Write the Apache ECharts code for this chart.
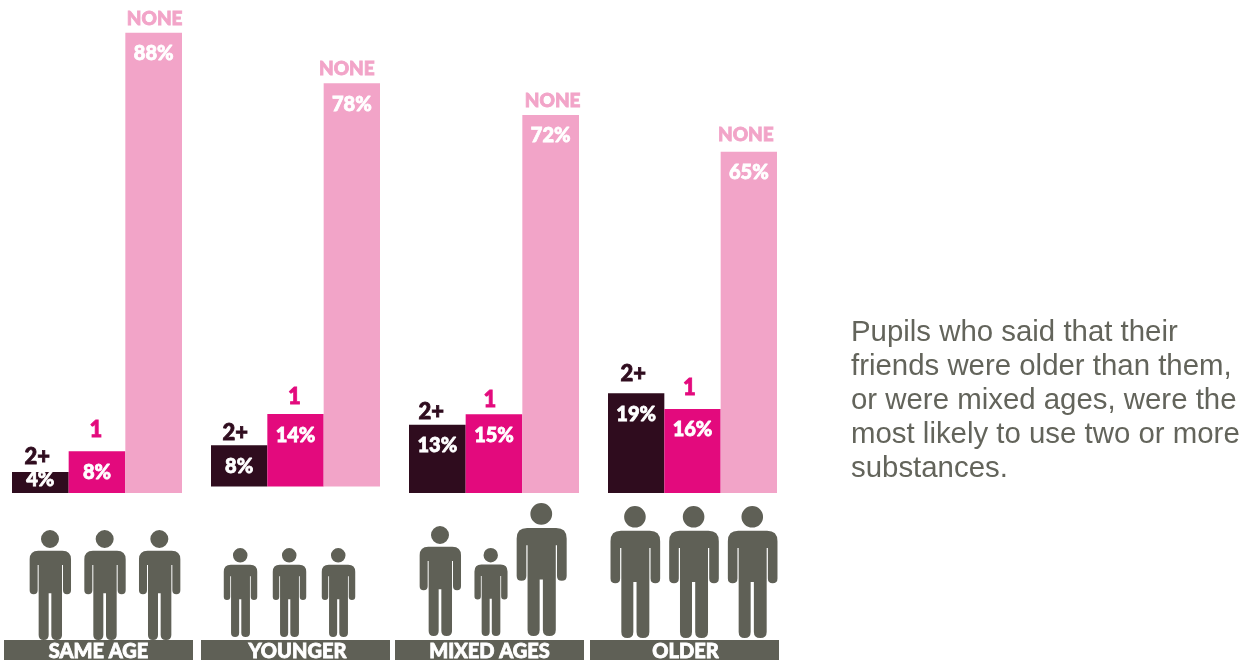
<!DOCTYPE html>
<html>
<head>
<meta charset="utf-8">
<style>html,body{margin:0;padding:0;background:#fff}#chart{width:1251px;height:660px}</style>
<script src="https://cdn.jsdelivr.net/npm/echarts@6/dist/echarts.min.js"></script>
</head>
<body>
<div id="chart"></div>
<script>
// Substance use by age of friends
const groupNames = ['SAME AGE', 'YOUNGER', 'MIXED AGES', 'OLDER'];
const useLevels = ['2+', '1', 'NONE'];
const twoOrMore = [4, 8, 13, 19];
const oneSubstance = [8, 14, 15, 16];
const noSubstance = [88, 78, 72, 65];
// Relative figure sizes for the pictogram row, one triple per group
const figureSizes = [
  [110, 110, 110],
  [89, 89, 89],
  [110, 88, 133],
  [132, 132, 132]
];
const caption = 'Pupils who said that their\nfriends were older than them,\nor were mixed ages, were the\nmost likely to use two or more\nsubstances.';

// Layout of each group
const barLeft = [12, 211, 409, 608];
const barWidth = [170, 169, 170, 169];
const baseline = [493, 486.5, 493, 493];
const pxPerPercent = [5.23, 5.17, 5.25, 5.25];
const axisMax = 92;
const figLeft = [23, 216, 415, 606];
const figWidth = [164, 147, 152, 176];
const figBase = [640, 637, 636, 638];
const figAxisMax = 140;
const bannerLeft = [4, 201, 395, 590];
const bannerTextShift = [0, 2, 0, 1];
// Offset of each level name from its bar's top centre: [dx, dy]
const nameOffsets = [
  [[-3, -15], [-1, -21], [1, -15]],
  [[-4, -12], [-1, -17], [-5, -15]],
  [[-6, -13], [-4, -14], [2, -15]],
  [[-3, -19], [-3, -21], [-3, -18]]
];

const DARK = '#2f0c1e', MAGENTA = '#e30a7d', PINK = '#f2a4c8', GREY = '#5f6056';
const levelColors = [DARK, MAGENTA, PINK];
const heavyText = (color, size) => ({
  fontFamily: 'Lato', fontWeight: 900, fontSize: size,
  color: color, textBorderColor: color, textBorderWidth: 0.8
});
const personPath = 'path://M34 27A27 27 0 1 1 88 27A27 27 0 1 1 34 27Z' +
  'M26 62H98Q124 62 124 88V181Q124 193 112 193Q100 193 100 181V105H97V315Q97 330 81 330Q65 330 65 315V190H57V315Q57 330 42 330Q27 330 27 315V105H24V181Q24 193 12 193Q0 193 0 181V88Q0 62 26 62Z';

const grids = [], xAxes = [], yAxes = [], series = [], graphics = [];

groupNames.forEach((name, g) => {
  const values = [twoOrMore[g], oneSubstance[g], noSubstance[g]];
  const h = pxPerPercent[g] * axisMax;

  // Bar panel
  grids.push({ left: barLeft[g], width: barWidth[g], top: baseline[g] - h, height: h });
  xAxes.push({ type: 'category', gridIndex: grids.length - 1, data: useLevels, show: false });
  yAxes.push({ type: 'value', gridIndex: grids.length - 1, min: 0, max: axisMax, show: false });
  series.push({
    type: 'bar',
    name: name,
    xAxisIndex: grids.length - 1,
    yAxisIndex: grids.length - 1,
    barWidth: '100%',
    silent: true,
    data: values.map((v, i) => ({
      value: v,
      itemStyle: { color: levelColors[i] },
      label: v < 5
        ? { position: 'inside', offset: [0, -3] }
        : { position: 'insideTop', distance: 11 }
    })),
    label: { show: true, formatter: '{c}%', ...heavyText('#fff', 20) }
  });
  // Level names sit just above each bar
  series.push({
    type: 'scatter',
    xAxisIndex: grids.length - 1,
    yAxisIndex: grids.length - 1,
    symbolSize: 1,
    itemStyle: { color: 'transparent', opacity: 1 },
    silent: true,
    z: 5,
    data: values.map((v, i) => ({
      value: [useLevels[i], v],
      label: {
        show: true,
        position: 'inside',
        formatter: useLevels[i],
        offset: i === 2 ? [nameOffsets[g][i][0], nameOffsets[g][i][1] + 1] : nameOffsets[g][i],
        ...heavyText(levelColors[i], i === 2 ? 19 : 22)
      }
    }))
  });

  // Pictogram panel
  grids.push({ left: figLeft[g], width: figWidth[g], top: figBase[g] - figAxisMax, height: figAxisMax });
  xAxes.push({ type: 'category', gridIndex: grids.length - 1, data: ['a', 'b', 'c'], show: false });
  yAxes.push({ type: 'value', gridIndex: grids.length - 1, min: 0, max: figAxisMax, show: false });
  series.push({
    type: 'pictorialBar',
    xAxisIndex: grids.length - 1,
    yAxisIndex: grids.length - 1,
    symbol: personPath,
    symbolPosition: 'start',
    silent: true,
    itemStyle: { color: GREY },
    data: figureSizes[g].map(s => ({ value: s, symbolSize: [s * 0.376, s] }))
  });

  // Group name banner
  graphics.push({
    type: 'group', left: bannerLeft[g], top: 640, z: 10,
    children: [
      { type: 'rect', shape: { x: 0, y: 0, width: 189, height: 20 }, style: { fill: GREY } },
      { type: 'text', x: 94.5 + bannerTextShift[g], y: 12, style: {
        text: name, fill: '#fff', stroke: '#fff', lineWidth: 0.8,
        align: 'center', verticalAlign: 'middle',
        font: '900 20px Lato'
      } }
    ]
  });
});

graphics.push({
  type: 'text', left: 851, top: 316,
  style: { text: caption, fill: '#63645b', font: '29.4px "Liberation Sans"', lineHeight: 34 }
});

const chart = echarts.init(document.getElementById('chart'), null, { renderer: 'canvas' });
chart.setOption({
  animation: false,
  backgroundColor: '#fff',
  grid: grids,
  xAxis: xAxes,
  yAxis: yAxes,
  series: series,
  graphic: graphics
});
</script>
</body>
</html>
